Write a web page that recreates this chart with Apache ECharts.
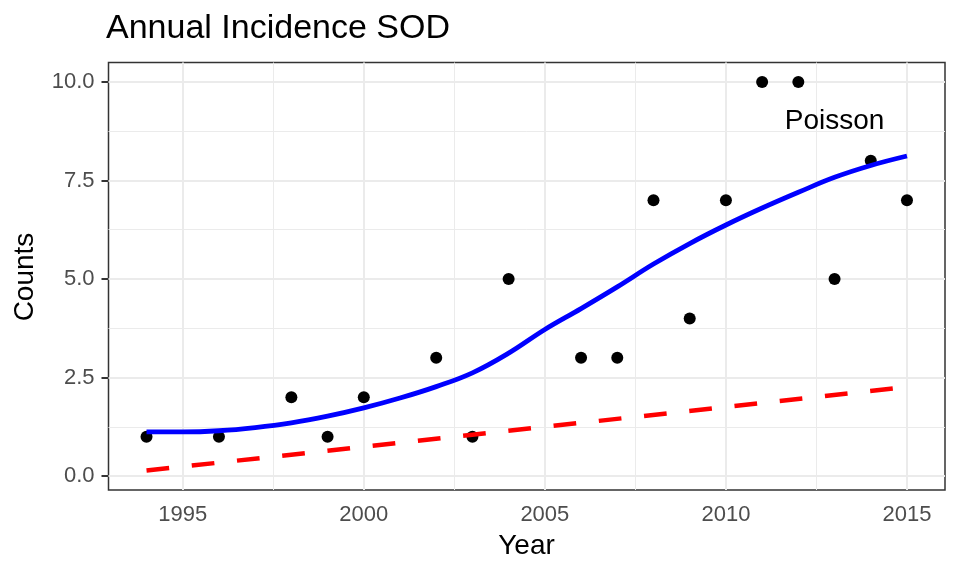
<!DOCTYPE html>
<html><head><meta charset="utf-8">
<script src="https://cdn.jsdelivr.net/npm/echarts@6/dist/echarts.min.js"></script>
<style>html,body{margin:0;padding:0;background:#fff}#c{width:960px;height:576px}</style>
</head><body><div id="c"></div>
<script>
// observed counts
const years  = [1994,1996,1998,1999,2000,2002,2003,2004,2006,2007,2008,2009,2010,2011,2012,2013,2014,2015];
const counts = [1,1,2,1,2,3,1,5,3,3,7,4,7,10,10,5,8,7];
// smooth (blue) curve
const smoothYears = [1994,1995,1996,1997,1998,1999,2000,2001,2002,2003,2004,2005,2006,2007,2008,2009,2010,2011,2012,2013,2014,2015];
const smoothVals  = [1.12,1.12,1.15,1.23,1.35,1.52,1.73,1.98,2.27,2.62,3.12,3.72,4.25,4.80,5.38,5.90,6.37,6.80,7.20,7.58,7.88,8.12];
// linear (red dashed) line
const linearYears = [1994,2015];
const linearVals  = [0.14,2.26];
// ticks
const xTicks = [1995,2000,2005,2010,2015];
const xMinor = [1997.5,2002.5,2007.5,2012.5];
const yTicks = [0,2.5,5,7.5,10];
const yTickLabels = ['0.0','2.5','5.0','7.5','10.0'];
const yMinor = [1.25,3.75,6.25,8.75];
// annotation
const noteX = [2013], noteY = [9], noteText = ['Poisson'];

const FONT = '"Liberation Sans", Arial, Helvetica, sans-serif';
const allX = years.concat(smoothYears, linearYears);
const allY = counts.concat(smoothVals, linearVals);
const xLo = Math.min(...allX), xHi = Math.max(...allX), xPad = 0.05*(xHi-xLo);
const yLo = Math.min(...allY), yHi = Math.max(...allY), yPad = 0.05*(yHi-yLo);

const zip = (a,b) => a.map((v,i)=>[v,b[i]]);

const gridLines = []
  .concat(xMinor.map(v=>({xAxis:v, lineStyle:{width:1}})))
  .concat(yMinor.map(v=>({yAxis:v, lineStyle:{width:1}})))
  .concat(xTicks.map(v=>({xAxis:v, lineStyle:{width:2}})))
  .concat(yTicks.map(v=>({yAxis:v, lineStyle:{width:2}})));

const chart = echarts.init(document.getElementById('c'));
chart.setOption({
  animation: false,
  backgroundColor: '#fff',
  title: {
    text: 'Annual Incidence SOD', left: 106, top: 12, padding: 0,
    textStyle: {fontSize: 34, fontWeight: 'normal', color: '#000', fontFamily: FONT}
  },
  grid: {left: 108.5, right: 15, top: 62.5, bottom: 86, show: true,
         borderColor: '#333333', borderWidth: 1.5, backgroundColor: '#fff'},
  xAxis: {
    type: 'value', min: xLo - xPad, max: xHi + xPad,
    axisLine: {show: false}, splitLine: {show: false},
    axisTick: {show: true, length: 7, customValues: xTicks, lineStyle: {color: '#333333', width: 2}},
    axisLabel: {customValues: xTicks, margin: 14, fontSize: 22, color: '#4D4D4D', fontFamily: FONT,
                formatter: v => String(v)}
  },
  yAxis: {
    type: 'value', min: yLo - yPad, max: yHi + yPad,
    axisLine: {show: false}, splitLine: {show: false},
    axisTick: {show: true, length: 7, customValues: yTicks, lineStyle: {color: '#333333', width: 2}},
    axisLabel: {customValues: yTicks, margin: 14, fontSize: 22, color: '#4D4D4D', fontFamily: FONT,
                formatter: v => { const i = yTicks.indexOf(v); return i >= 0 ? yTickLabels[i] : ''; }}
  },
  graphic: [
    {type: 'text', x: 526.5, y: 546, style: {text: 'Year', fontSize: 28, fontFamily: FONT, fill: '#000', align: 'center', verticalAlign: 'middle'}},
    {type: 'text', x: 25.5, y: 277, rotation: Math.PI/2, style: {text: 'Counts', fontSize: 28, fontFamily: FONT, fill: '#000', align: 'center', verticalAlign: 'middle'}}
  ],
  series: [
    {type: 'scatter', data: [], z: 1, silent: true,
     markLine: {z: 1, silent: true, symbol: ['none','none'], label: {show: false},
                lineStyle: {color: '#EBEBEB', type: 'solid'}, emphasis: {disabled: true}, data: gridLines}},
    {type: 'scatter', data: zip(years, counts), symbolSize: 12, itemStyle: {color: '#000', opacity: 1}, z: 2, silent: true},
    {type: 'line', data: zip(linearYears, linearVals), symbol: 'none', z: 3, silent: true,
     lineStyle: {color: '#FF0000', width: 4.5, type: [22.75, 22.75], cap: 'butt'}},
    {type: 'line', data: zip(smoothYears, smoothVals), symbol: 'none', smooth: 0.4, z: 4, silent: true,
     lineStyle: {color: '#0000FF', width: 4.8, cap: 'butt'}},
    {type: 'scatter', data: zip(noteX, noteY), symbolSize: 0, z: 5, silent: true,
     label: {show: true, position: [0, 0], align: 'center', verticalAlign: 'middle',
             formatter: p => noteText[p.dataIndex], textBorderWidth: 0,
             fontSize: 28, color: '#000000', opacity: 1, fontFamily: FONT}}
  ]
});
</script></body></html>
